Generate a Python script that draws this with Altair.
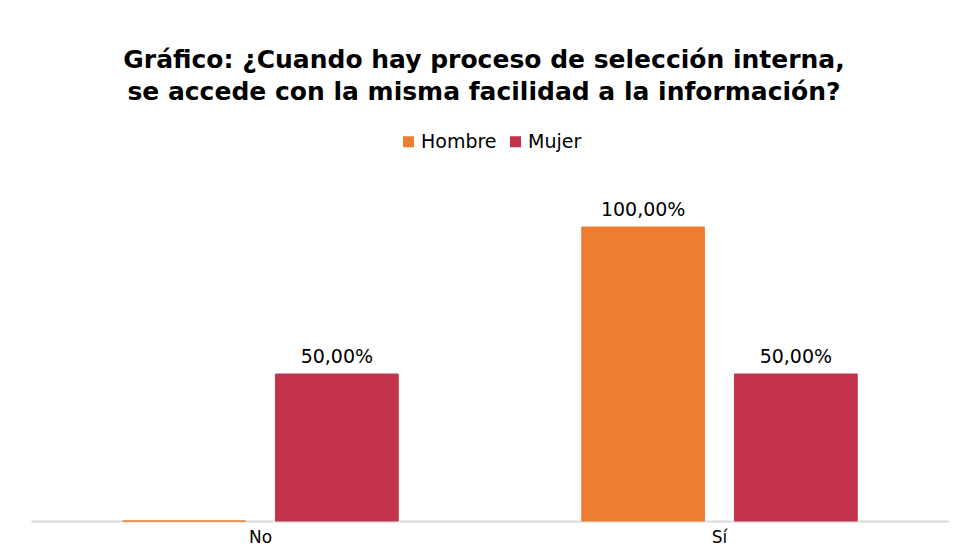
import altair as alt
import pandas as pd

categories = ["No", "No", "Sí", "Sí"]
sexes = ["Hombre", "Mujer", "Hombre", "Mujer"]
values = [0.0, 0.5, 1.0, 0.5]
labels = ["", "50,00%", "100,00%", "50,00%"]

df = pd.DataFrame({"cat": categories, "sexo": sexes, "valor": values, "etiqueta": labels})

FONT = "DejaVu Sans"
color_scale = alt.Scale(domain=["Hombre", "Mujer"], range=["#ED7D31", "#C3344C"])

x = alt.X("cat:N", title=None, sort=["No", "Sí"],
          scale=alt.Scale(paddingInner=0, paddingOuter=0),
          axis=alt.Axis(labelAngle=0, labelFont=FONT, labelFontSize=17, labelColor="#000000",
                        ticks=False, domainColor="#D9D9D9", domainWidth=2, labelPadding=8))
xoff = alt.XOffset("sexo:N", scale=alt.Scale(paddingInner=0.196, paddingOuter=0.601))
y = alt.Y("valor:Q", scale=alt.Scale(domain=[0, 1]), axis=None)

bars = alt.Chart(df).mark_bar(strokeWidth=1).encode(
    x=x, xOffset=xoff, y=y,
    color=alt.Color("sexo:N", scale=color_scale, title=None,
                    legend=alt.Legend(orient="none", direction="horizontal", legendX=368, legendY=-95,
                                      symbolType="square", symbolSize=121, symbolStrokeWidth=0,
                                      labelFont=FONT, labelFontSize=19, labelColor="#000000",
                                      columnPadding=9, labelOffset=3)),
    stroke=alt.Color("sexo:N", scale=color_scale, legend=None),
)

text = alt.Chart(df).transform_filter("datum.valor > 0").mark_text(
    baseline="bottom", dy=-7, font=FONT, fontSize=19, color="#000000"
).encode(x=x, xOffset=xoff, y=y, text="etiqueta:N")

chart = alt.layer(bars, text).properties(
    width=918, height=294,
    autosize=alt.AutoSizeParams(type="none"),
    padding={"left": 23, "top": 219, "right": 0, "bottom": 30},
    title=alt.TitleParams(
        ["Gráfico: ¿Cuando hay proceso de selección interna,",
         "se accede con la misma facilidad a la información?"],
        font=FONT, fontSize=25, fontWeight="bold", color="#000000",
        anchor="middle", lineHeight=32, offset=27, dx=-6),
).configure_view(stroke=None)

chart.save("out.html", embed_options={"renderer": "svg", "actions": False})
